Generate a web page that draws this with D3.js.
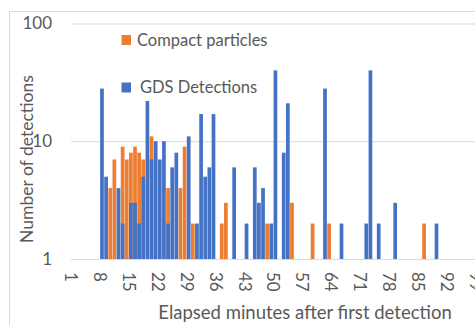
<!DOCTYPE html>
<html>
<head>
<meta charset="utf-8">
<script src="https://cdn.jsdelivr.net/npm/d3@7"></script>
<style>
  html, body { margin: 0; padding: 0; background: #ffffff; }
  svg { display: block; }
  text { font-family: Lato, "Open Sans", sans-serif; fill: #595959; }
</style>
</head>
<body>
<script>
// ---- data ----
const categories = d3.range(1, 105);            // elapsed minutes 1..104
const tickLabels = [1, 8, 15, 22, 29, 36, 43, 50, 57, 64, 71, 78, 85, 92, 99];
const yTicks = [1, 10, 100];

const compactMinutes = [10, 11, 13, 14, 15, 16, 17, 18, 20, 24, 27, 28, 30, 37, 38, 48, 54, 59, 63, 86];
const compactValues  = [ 4,  7,  9,  7,  8,  9,  8,  7, 11,  4,  4,  9,  2,  2,  3,  2,  3,  2,  2,  2];

const gdsMinutes = [8, 9, 12, 13, 15, 16, 17, 18, 19, 20, 21, 22, 23, 24, 25, 26, 29, 31, 32, 33, 34, 35,
                    40, 43, 45, 46, 47, 49, 50, 52, 53, 62, 66, 72, 73, 75, 79, 89];
const gdsValues  = [28, 5, 4, 2, 3, 3, 2, 5, 22, 7, 10, 7, 10, 2, 6, 8, 11, 2, 17, 5, 6, 17,
                    6, 2, 6, 3, 4, 2, 40, 8, 21, 28, 2, 2, 40, 2, 3, 2];

const seriesNames = ["Compact particles", "GDS Detections"];
const seriesColors = ["#ED7D31", "#4472C4"];

// ---- layout ----
const W = 475, H = 325;
const plotLeft = 71, step = 4.13;
const yBottom = 259, yTop = 23.5;
const gridColor = "#d9d9d9";

const svg = d3.select("body").append("svg").attr("width", W).attr("height", H);

// chart border (only top and left visible in the crop)
svg.append("rect")
  .attr("x", 9.5).attr("y", 11.5)
  .attr("width", 1000).attr("height", 1000)
  .attr("fill", "none").attr("stroke", gridColor).attr("stroke-width", 1);

const x = d3.scaleBand()
  .domain(categories)
  .range([plotLeft, plotLeft + categories.length * step])
  .paddingInner(0.1).paddingOuter(0.05);

const y = d3.scaleLog().domain([1, 100]).range([yBottom, yTop]);

// y axis with gridlines
const yAxis = d3.axisLeft(y)
  .tickValues(yTicks)
  .tickFormat(d3.format("d"))
  .tickSizeInner(-(W - plotLeft + 40))
  .tickSizeOuter(0)
  .tickPadding(19);

const gy = svg.append("g").attr("transform", `translate(${plotLeft},0)`).call(yAxis);
gy.select(".domain").remove();
gy.selectAll(".tick line").attr("stroke", gridColor).attr("stroke-width", 1.2);
gy.selectAll(".tick text")
  .style("font-size", "17px").style("font-family", "Lato, sans-serif")
  .attr("fill", "#595959");

// bars: compact (behind), gds (front)
function drawSeries(mins, vals, color) {
  const data = mins.map((m, i) => ({ m, v: vals[i] }));
  svg.append("g").selectAll("rect").data(data).join("rect")
    .attr("x", d => x(d.m))
    .attr("width", x.bandwidth())
    .attr("y", d => y(d.v))
    .attr("height", d => y(1) - y(d.v))
    .attr("fill", color);
}
drawSeries(compactMinutes, compactValues, seriesColors[0]);
drawSeries(gdsMinutes, gdsValues, seriesColors[1]);

// x axis
const xAxis = d3.axisBottom(x).tickValues(tickLabels).tickSize(0).tickSizeOuter(0);
const gx = svg.append("g").attr("transform", `translate(0,${yBottom})`).call(xAxis);
gx.select(".domain").attr("stroke", gridColor).attr("stroke-width", 1.2);
gx.selectAll(".tick text")
  .attr("transform", "rotate(90)")
  .attr("x", 13).attr("y", 2).attr("dy", "0.35em")
  .attr("text-anchor", "start")
  .style("font-size", "17px").style("font-family", "Lato, sans-serif")
  .attr("fill", "#595959");

// axis titles
svg.append("text")
  .attr("x", 305).attr("y", 319)
  .attr("text-anchor", "middle")
  .style("font-size", "18.5px")
  .text("Elapsed minutes after first detection");

svg.append("text")
  .attr("transform", "translate(33,159) rotate(-90)")
  .attr("text-anchor", "middle")
  .style("font-size", "17.5px")
  .text("Number of detections");

// legend
const legendRows = [
  { name: seriesNames[0], color: seriesColors[0], sy: 35, tx: 137, ty: 40 },
  { name: seriesNames[1], color: seriesColors[1], sy: 82.5, tx: 140, ty: 87.5 }
];
const lg = svg.append("g");
legendRows.forEach(r => {
  lg.append("rect").attr("x", 121.5).attr("y", r.sy).attr("width", 9.5).attr("height", 10).attr("fill", r.color);
  lg.append("text").attr("x", r.tx).attr("y", r.ty).attr("dy", "0.35em")
    .style("font-size", "16.5px").text(r.name);
});
</script>
</body>
</html>
